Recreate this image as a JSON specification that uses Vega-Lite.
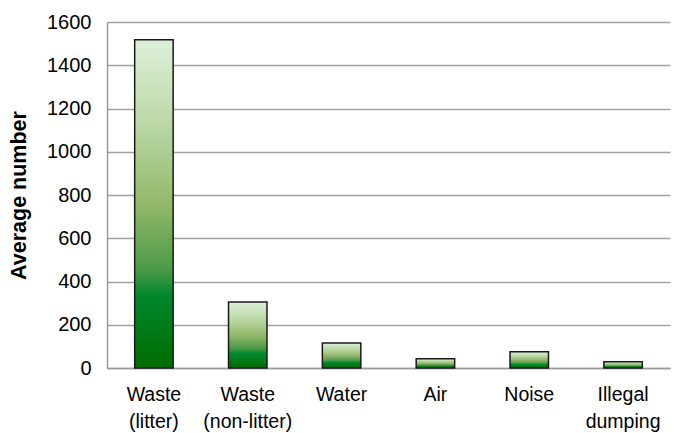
{
  "$schema": "https://vega.github.io/schema/vega-lite/v6.json",
  "autosize": {"type": "none"},
  "width": 563,
  "height": 346,
  "padding": {"left": 107, "top": 22, "right": 7, "bottom": 65},
  "background": "white",
  "data": {
    "values": [
      {"category": "Waste|(litter)", "value": 1518},
      {"category": "Waste|(non-litter)", "value": 305},
      {"category": "Water", "value": 116},
      {"category": "Air", "value": 43},
      {"category": "Noise", "value": 75},
      {"category": "Illegal|dumping", "value": 29}
    ]
  },
  "mark": {
    "type": "bar",
    "stroke": "#1a1a1a",
    "strokeWidth": 1.5,
    "color": {
      "gradient": "linear",
      "x1": 0, "y1": 0, "x2": 0, "y2": 1,
      "stops": [
        {"offset": 0, "color": "#ddf0d9"},
        {"offset": 0.25, "color": "#bcd9a8"},
        {"offset": 0.5, "color": "#93b86a"},
        {"offset": 0.7, "color": "#4c9a48"},
        {"offset": 0.78, "color": "#00882e"},
        {"offset": 1, "color": "#006c00"}
      ]
    }
  },
  "encoding": {
    "x": {
      "field": "category",
      "type": "nominal",
      "sort": null,
      "scale": {"paddingInner": 0.59, "paddingOuter": 0.295},
      "axis": {
        "title": null,
        "labelAngle": 0,
        "labelExpr": "split(datum.value, '|')",
        "labelFont": "Liberation Sans",
        "labelFontSize": 19.5,
        "labelColor": "#000000",
        "labelLineHeight": 27,
        "labelPadding": 17,
        "ticks": false,
        "domainColor": "#9a9a9a",
        "domainWidth": 1.5
      }
    },
    "y": {
      "field": "value",
      "type": "quantitative",
      "scale": {"domain": [0, 1600]},
      "axis": {
        "title": "Average number",
        "titleFont": "Liberation Sans",
        "titleFontSize": 21.5,
        "titleFontWeight": "bold",
        "titleColor": "#000000",
        "titlePadding": 16,
        "format": "d",
        "values": [0, 200, 400, 600, 800, 1000, 1200, 1400, 1600],
        "labelFont": "Liberation Sans",
        "labelFontSize": 20,
        "labelColor": "#000000",
        "labelPadding": 16,
        "ticks": false,
        "grid": true,
        "gridColor": "#a0a0a0",
        "gridWidth": 1.5,
        "domainColor": "#9a9a9a",
        "domainWidth": 1.5
      }
    }
  },
  "config": {"view": {"stroke": null}}
}
